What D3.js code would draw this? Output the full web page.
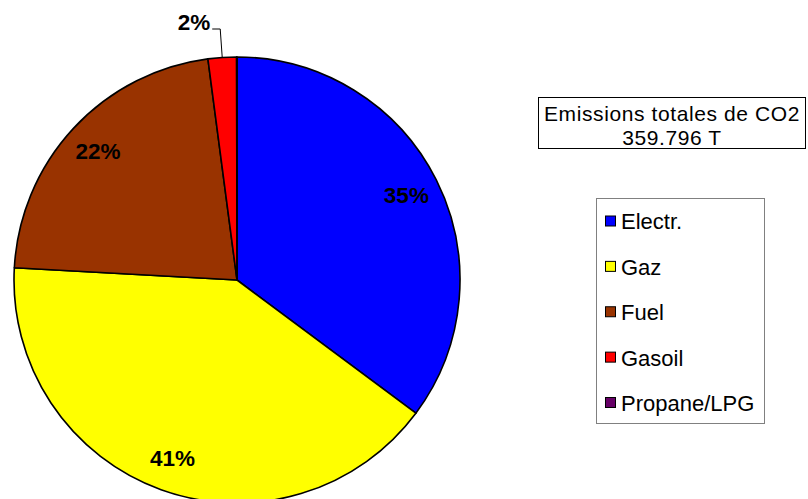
<!DOCTYPE html>
<html>
<head>
<meta charset="utf-8">
<script src="https://cdn.jsdelivr.net/npm/d3@7"></script>
<style>
  html, body { margin: 0; padding: 0; background: #fff; }
  svg { display: block; font-family: "Liberation Sans", Arial, sans-serif; }
</style>
</head>
<body>
<svg id="chart" width="808" height="499"></svg>
<script>
const categories = ["Electr.", "Gaz", "Fuel", "Gasoil", "Propane/LPG"];
const values = [126.6, 146.4, 79.3, 7.4, 0.096];
const colors = ["#0000FF", "#FFFF00", "#993300", "#FF0000", "#660066"];
const titleLines = ["Emissions totales de CO2", "359.796 T"];

const svg = d3.select("#chart");
const cx = 237, cy = 280, R = 223;
const total = d3.sum(values);

const data = categories.map((c, i) => ({ name: c, value: values[i], color: colors[i] }));
const pie = d3.pie().sort(null).value(d => d.value);
const arcs = pie(data);
const arc = d3.arc().innerRadius(0).outerRadius(R);
const labelArc = d3.arc().innerRadius(R * 0.85).outerRadius(R * 0.85);

const g = svg.append("g").attr("transform", `translate(${cx},${cy})`);
g.selectAll("path.slice").data(arcs).join("path")
  .attr("class", "slice")
  .attr("d", arc)
  .attr("fill", d => d.data.color)
  .attr("stroke", "#000")
  .attr("stroke-width", 1.6)
  .attr("stroke-linejoin", "round");

const fmt = v => Math.round(v / total * 100) + "%";

arcs.forEach(d => {
  const pct = d.data.value / total;
  if (pct < 0.01) return;
  if (pct >= 0.05) {
    const [x, y] = labelArc.centroid(d);
    g.append("text")
      .attr("x", x).attr("y", y)
      .attr("dy", "0.35em")
      .attr("text-anchor", "middle")
      .attr("font-size", 22.5)
      .attr("font-weight", "bold")
      .attr("fill", "#000")
      .text(fmt(d.data.value));
  } else {
    const mid = (d.startAngle + d.endAngle) / 2;
    const p0 = [R * Math.sin(mid), -R * Math.cos(mid)];
    const p1 = [p0[0] - 2, -R - 28];
    const p2 = [p1[0] - 8, p1[1]];
    g.append("path")
      .attr("d", d3.line()([p0, p1, p2]))
      .attr("fill", "none")
      .attr("stroke", "#000")
      .attr("stroke-width", 1);
    g.append("text")
      .attr("x", p2[0] - 2).attr("y", p2[1] + 1)
      .attr("text-anchor", "end")
      .attr("font-size", 22.5)
      .attr("font-weight", "bold")
      .attr("fill", "#000")
      .text(fmt(d.data.value));
  }
});

// Title box
const tb = svg.append("g");
tb.append("rect")
  .attr("x", 538.5).attr("y", 97.5).attr("width", 267).attr("height", 51)
  .attr("fill", "#fff").attr("stroke", "#000").attr("stroke-width", 1);
tb.selectAll("text").data(titleLines).join("text")
  .attr("x", 672).attr("y", (d, i) => 120.5 + i * 24)
  .attr("text-anchor", "middle")
  .attr("font-size", 21)
  .attr("letter-spacing", 0.6)
  .attr("fill", "#000")
  .text(d => d);

// Legend
const lg = svg.append("g");
lg.append("rect")
  .attr("x", 596.5).attr("y", 198.5).attr("width", 168).attr("height", 225)
  .attr("fill", "#fff").attr("stroke", "#808080").attr("stroke-width", 1);
const rowY = d3.scalePoint().domain(categories).range([221.5, 403]);
const rows = lg.selectAll("g.row").data(data).join("g")
  .attr("class", "row")
  .attr("transform", d => `translate(0,${rowY(d.name)})`);
rows.append("rect")
  .attr("x", 605.5).attr("y", -5.5).attr("width", 10).attr("height", 10)
  .attr("fill", d => d.color).attr("stroke", "#000").attr("stroke-width", 1);
rows.append("text")
  .attr("x", 621).attr("y", 0).attr("dy", "0.36em")
  .attr("font-size", 22)
  .attr("fill", "#000")
  .text(d => d.name);
</script>
</body>
</html>
